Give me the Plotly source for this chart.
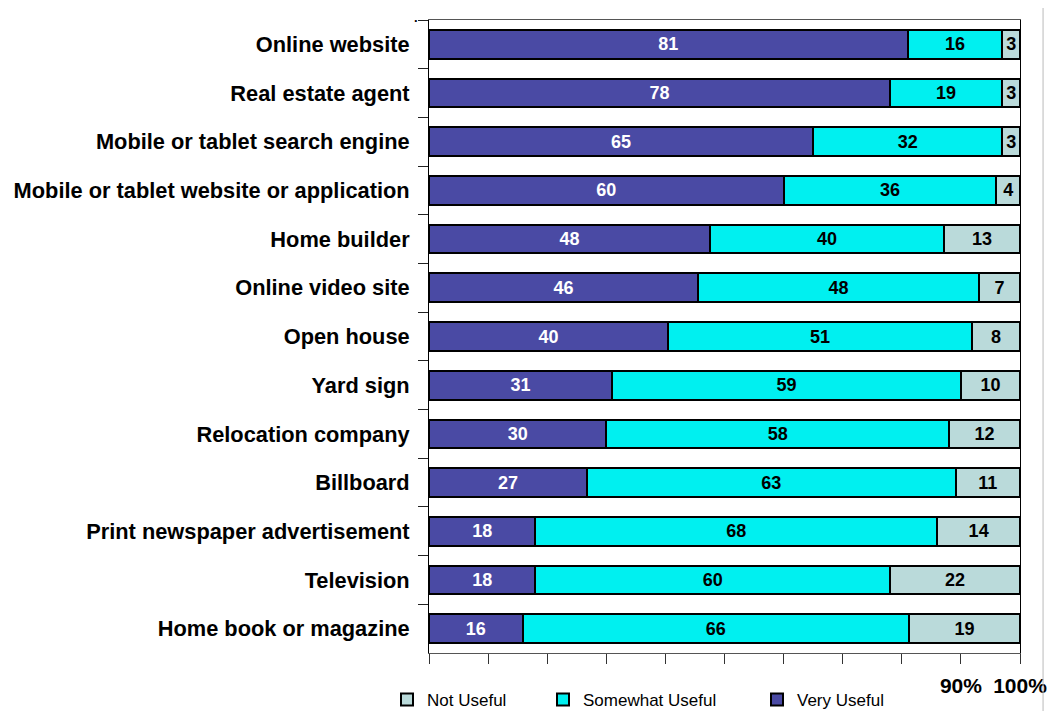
import plotly.graph_objects as go

categories = [
    "Online website",
    "Real estate agent",
    "Mobile or tablet search engine",
    "Mobile or tablet website or application",
    "Home builder",
    "Online video site",
    "Open house",
    "Yard sign",
    "Relocation company",
    "Billboard",
    "Print newspaper advertisement",
    "Television",
    "Home book or magazine",
]
very_useful = [81, 78, 65, 60, 48, 46, 40, 31, 30, 27, 18, 18, 16]
somewhat_useful = [16, 19, 32, 36, 40, 48, 51, 59, 58, 63, 68, 60, 66]
not_useful = [3, 3, 3, 4, 13, 7, 8, 10, 12, 11, 14, 22, 19]

tick_vals = [0, 10, 20, 30, 40, 50, 60, 70, 80, 90, 100]
tick_text = ["", "", "", "", "", "", "", "", "", "90%", "100%"]

FONT = "Liberation Sans, Arial, sans-serif"
W, H = 1053, 703  # page body has an 8px margin

fig = go.Figure()
series = [
    ("Very Useful", very_useful, "#4A4AA4", "white", "legend3"),
    ("Somewhat Useful", somewhat_useful, "#00F0F0", "black", "legend2"),
    ("Not Useful", not_useful, "#BADADA", "black", "legend"),
]
for name, vals, color, tcolor, leg in series:
    fig.add_trace(go.Bar(
        y=categories, x=vals, name=name, orientation="h", legend=leg,
        marker=dict(color=color, line=dict(color="black", width=2)),
        text=[str(v) for v in vals], textposition="inside",
        insidetextanchor="middle", textangle=0, constraintext="none",
        textfont=dict(family=FONT, size=18, color=tcolor, weight="bold"),
    ))

def leg(xpix):
    return dict(orientation="h", xref="container", yref="container",
                x=(xpix - 8) / W, y=11 / H, xanchor="left", yanchor="middle",
                font=dict(size=17, family=FONT, color="black"),
                bgcolor="rgba(0,0,0,0)", itemsizing="constant")

fig.update_layout(
    barmode="stack", barnorm="percent", bargap=0.41,
    width=W, height=H,
    margin=dict(l=421, r=41, t=12, b=58, autoexpand=False),
    paper_bgcolor="white", plot_bgcolor="white",
    font=dict(family=FONT, color="black"),
    showlegend=True,
    legend=leg(387), legend2=leg(543), legend3=leg(757),
)
fig.update_xaxes(
    range=[0, 100], tickvals=tick_vals, ticktext=tick_text,
    ticks="outside", ticklen=10, tickcolor="#333", showgrid=False,
    showline=True, linecolor="#555", linewidth=1, mirror=True,
    tickfont=dict(size=21, family=FONT, weight="bold", color="black"),
    ticklabelstandoff=4, zeroline=False, automargin=False,
)
fig.update_yaxes(
    autorange="reversed", ticks="outside", tickson="boundaries", ticklen=10,
    tickcolor="#222", showgrid=False, showline=True, linecolor="black",
    linewidth=1, mirror=True, ticklabelstandoff=14, automargin=False,
    tickfont=dict(size=21.8, family=FONT, weight="bold", color="black"),
)
fig.add_shape(type="line", xref="paper", yref="paper", x0=1.039, x1=1.039,
              y0=-0.1, y1=1.04, line=dict(color="#BBBBBB", width=1))
fig.add_annotation(xref="paper", yref="paper", x=-0.028, y=1.0185, yanchor="top",
                   text="<b>.</b>", showarrow=False,
                   font=dict(size=13, family=FONT))

fig.write_html("out.html")
